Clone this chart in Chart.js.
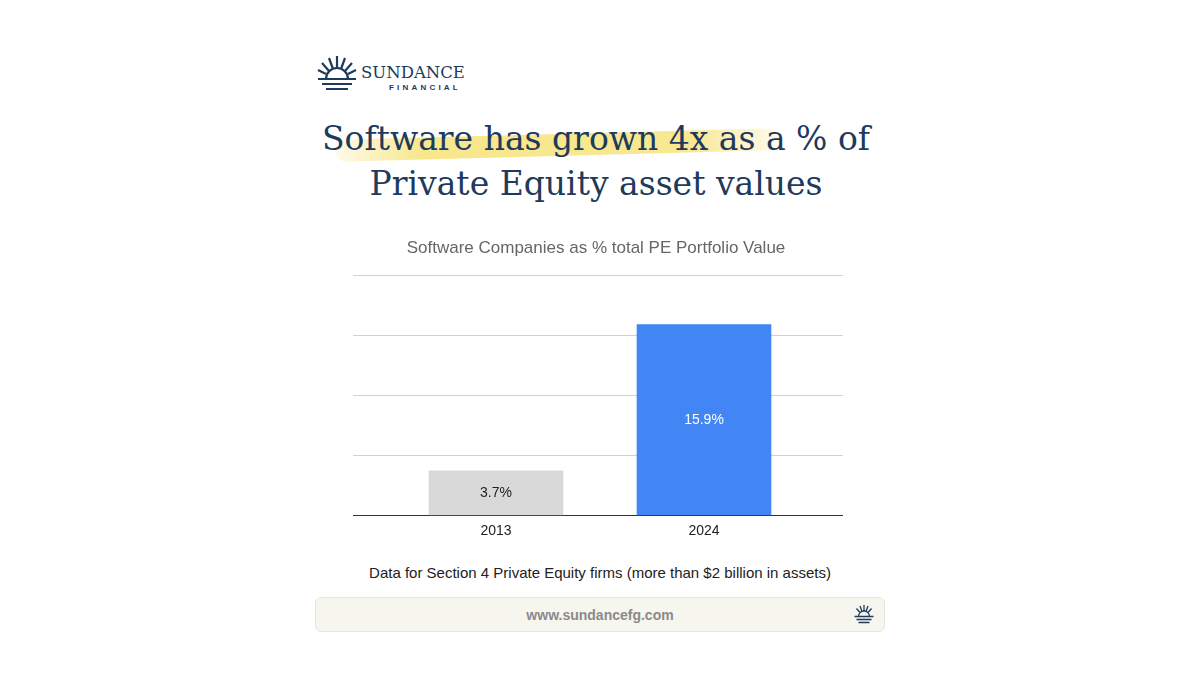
<!DOCTYPE html>
<html><head><meta charset="utf-8">
<script src="https://cdn.jsdelivr.net/npm/chart.js@4/dist/chart.umd.min.js"></script>
<style>
  body { margin:0; width:1200px; height:675px; background:#fff; position:relative; overflow:hidden; font-family:"Liberation Sans", Arial, sans-serif; }
  .abs { position:absolute; }
  #logoText { left:361px; top:63px; color:#1e3a5c; font-family:"DejaVu Serif", serif; font-size:16.5px; }
  #logoSub { left:389px; top:83px; color:#1e3a5c; font-size:8px; letter-spacing:3.2px; font-weight:bold; }
  #title { left:0; width:1192px; top:116px; text-align:center; color:#1e3a5c; font-family:"DejaVu Serif", serif; font-size:33px; line-height:45px; }
  #hl { left:335px; top:134px; width:445px; height:22px; background:linear-gradient(90deg, rgba(245,225,110,0.15), rgba(245,222,100,0.75) 20%, rgba(245,222,100,0.7) 80%, rgba(245,225,110,0.1)); border-radius:12px; transform:rotate(-1.5deg); }
  #note { left:0; width:1200px; top:564px; text-align:center; font-size:15px; color:#222; }
  #footer { left:315px; top:597px; width:568px; height:33px; background:#f6f5ee; border:1px solid #e9e7dc; border-radius:6px; }
  #footer span { position:absolute; left:0; width:568px; top:9px; text-align:center; color:#8a8a8a; font-weight:bold; font-size:14px; }
  #wrap { left:340px; top:232px; width:520px; height:308px; }
</style></head>
<body>
<svg class="abs" style="left:316px;top:54px" width="42" height="40" viewBox="0 0 42 40" stroke="#1e3a5c" stroke-width="2.2" fill="none">
  <path d="M21 2 V14 M13 4 L17 15 M29 4 L25 15 M6 9 L13 17 M36 9 L29 17 M2 16 L10 20 M40 16 L32 20"/>
  <path d="M10 25 A11 11 0 0 1 32 25"/>
  <path d="M2 25 H40 M6 30 H36 M10 35 H32"/>
</svg>
<div class="abs" id="logoText">SUNDANCE</div>
<div class="abs" id="logoSub">FINANCIAL</div>
<div class="abs" id="hl"></div>
<div class="abs" id="title">Software has grown 4x as a % of<br>Private Equity asset values</div>
<div class="abs" id="wrap"><canvas id="c" width="520" height="308"></canvas></div>
<div class="abs" id="note">Data for Section 4 Private Equity firms (more than $2 billion in assets)</div>
<div class="abs" id="footer"><span>www.sundancefg.com</span>
<svg style="position:absolute;left:537px;top:6px" width="22" height="20" viewBox="0 0 42 40" stroke="#1e3a5c" stroke-width="2.6" fill="none">
  <path d="M21 2 V14 M13 4 L17 15 M29 4 L25 15 M6 9 L13 17 M36 9 L29 17"/>
  <path d="M10 25 A11 11 0 0 1 32 25"/><path d="M2 25 H40 M6 31 H36 M10 37 H32"/>
</svg></div>
<script>
const years = ["2013", "2024"];
const shares = [3.7, 15.9];
const barColors = ["#d9d9d9", "#4285f4"];
const labelColors = ["#222222", "#ffffff"];
const gridLeft = 13, gridRight = 503; // grid spans wider than the bar categories

const wideGrid = {
  id: "wideGrid",
  beforeDatasetsDraw(chart) {
    const ctx = chart.ctx, y = chart.scales.y;
    ctx.save();
    y.ticks.forEach(t => {
      const py = Math.round(y.getPixelForValue(t.value)) + 0.5;
      ctx.strokeStyle = t.value === 0 ? "#333" : "#d0d0d0";
      ctx.lineWidth = 1;
      ctx.beginPath(); ctx.moveTo(gridLeft, py); ctx.lineTo(gridRight, py); ctx.stroke();
    });
    ctx.restore();
  }
};

const valueLabels = {
  id: "valueLabels",
  afterDatasetsDraw(chart) {
    const ctx = chart.ctx;
    chart.getDatasetMeta(0).data.forEach((bar, i) => {
      const y = (bar.y + bar.base) / 2;
      ctx.save();
      ctx.font = "14px 'Liberation Sans', Arial";
      ctx.fillStyle = labelColors[i];
      ctx.textAlign = "center"; ctx.textBaseline = "middle";
      ctx.fillText(shares[i].toFixed(1) + "%", bar.x, y);
      ctx.restore();
    });
  }
};

new Chart(document.getElementById("c"), {
  type: "bar",
  data: { labels: years, datasets: [{ data: shares, backgroundColor: barColors, barThickness: 134 }] },
  options: {
    responsive: false, animation: false,
    layout: { padding: { left: 44, right: 52, top: 0, bottom: 0 } },
    plugins: {
      legend: { display: false }, tooltip: { enabled: false },
      title: { display: true, text: "Software Companies as % total PE Portfolio Value", color: "#666", font: { size: 17, family: "'Liberation Sans', Arial", weight: "normal" }, padding: { top: 6, bottom: 17 } }
    },
    scales: {
      x: { grid: { display: false }, border: { display: false }, ticks: { color: "#222", font: { size: 14 }, padding: 0 } },
      y: { min: 0, max: 20, ticks: { stepSize: 5, display: false }, grid: { display: false }, border: { display: false } }
    }
  },
  plugins: [wideGrid, valueLabels]
});
</script>
</body></html>
